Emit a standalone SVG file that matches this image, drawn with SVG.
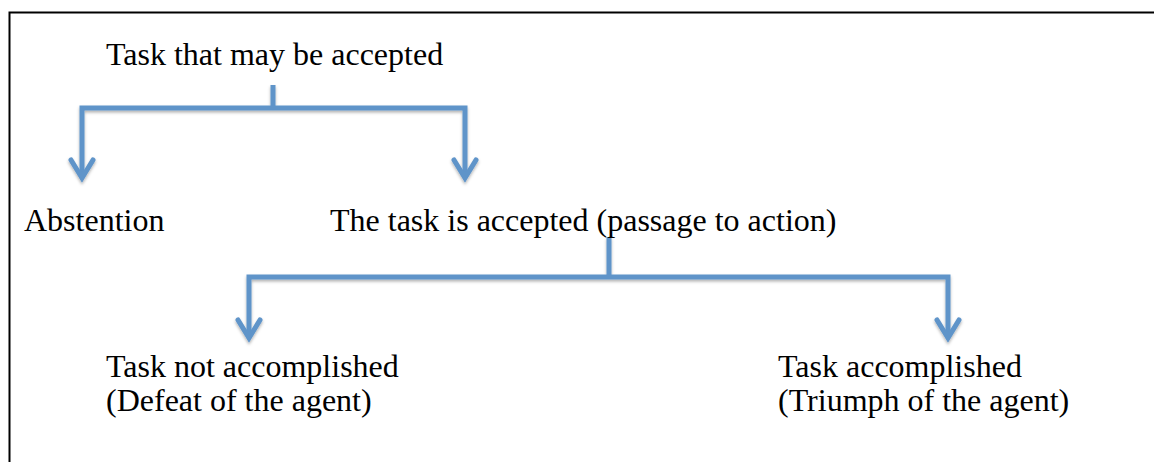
<svg xmlns="http://www.w3.org/2000/svg" width="1154" height="462" viewBox="0 0 1154 462">
<style>
text{font-family:"Liberation Serif","Times New Roman",serif;font-size:32px;fill:#000}
.c{fill:none;stroke:#5f94c9;stroke-width:5;stroke-linejoin:miter;stroke-linecap:butt}
.h{fill:none;stroke:#5f94c9;stroke-width:5;stroke-linejoin:miter;stroke-linecap:round}
</style>
<defs>
<filter id="sh" x="-5%" y="-20%" width="110%" height="140%">
<feDropShadow dx="0" dy="2" stdDeviation="1.5" flood-color="#000" flood-opacity="0.3"/>
</filter>
</defs>
<rect x="9.5" y="12.5" width="1200" height="500" fill="#fff" stroke="#000" stroke-width="2"/>
<g id="connectors" filter="url(#sh)">
<path class="c" d="M273 85V108M82 178V108H465V178"/>
<path class="h" d="M71 160L82 178L93 160M454 160L465 178L476 160"/>
<path class="c" d="M609 237V277M249 338V277H948V338"/>
<path class="h" d="M238 320L249 338L260 320M937 320L948 338L959 320"/>
</g>
<g id="root"><text x="106" y="65">Task that may be accepted</text></g>
<g id="abstention"><text x="24" y="231">Abstention</text></g>
<g id="accepted"><text x="330" y="231">The task is accepted (passage to action)</text></g>
<g id="notaccomplished"><text x="106" y="377">Task not accomplished</text><text x="106" y="411">(Defeat of the agent)</text></g>
<g id="accomplished"><text x="778" y="377">Task accomplished</text><text x="778" y="411">(Triumph of the agent)</text></g>
</svg>
